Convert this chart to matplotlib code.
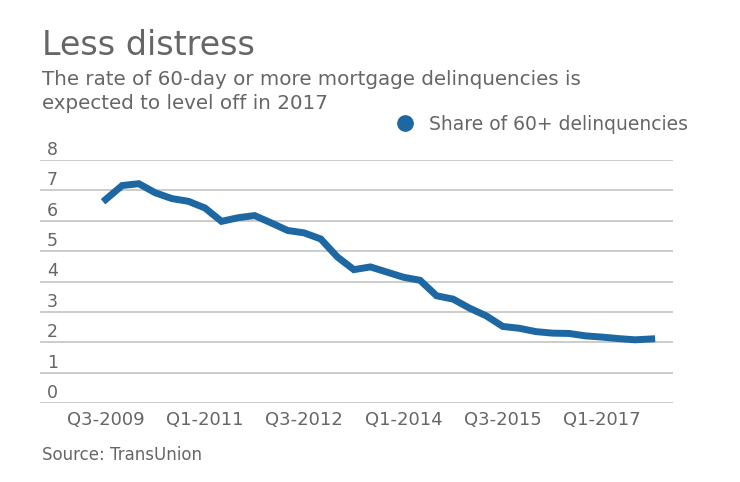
import matplotlib.pyplot as plt
from matplotlib.lines import Line2D
from matplotlib.transforms import blended_transform_factory, offset_copy

# quarterly share of 60+ day mortgage delinquencies, Q3-2009 .. Q4-2017
quarters = []
for year in range(2009, 2018):
    for q in range(1, 5):
        if (year, q) >= (2009, 3):
            quarters.append(f"Q{q}-{year}")

share = [6.70, 7.16, 7.22, 6.92, 6.73, 6.64, 6.42, 5.98, 6.10, 6.17,
         5.93, 5.68, 5.60, 5.40, 4.81, 4.39, 4.48, 4.31, 4.14, 4.04,
         3.53, 3.42, 3.12, 2.87, 2.52, 2.46, 2.35, 2.30, 2.29, 2.21,
         2.17, 2.12, 2.08, 2.11]

tick_labels = ["Q3-2009", "Q1-2011", "Q3-2012", "Q1-2014", "Q3-2015", "Q1-2017"]
y_ticks = [0, 1, 2, 3, 4, 5, 6, 7, 8]

LINE_COLOR = "#1d67a3"
TEXT_COLOR = "#666666"
GRID_COLOR = "#c4c4c4"

W, H = 740, 482
fig = plt.figure(figsize=(W / 100, H / 100), dpi=100)
ax = fig.add_axes([40 / W, 1 - 403 / H, (673 - 40) / W, (403 - 160) / H])

x = list(range(len(share)))
ax.plot(x, share, color=LINE_COLOR, linewidth=5, solid_joinstyle="miter")

ax.set_ylim(0, 8)
ax.set_xlim(-3.97, 34.29)
ax.set_yticks(y_ticks)
ax.yaxis.grid(True, color=GRID_COLOR, linewidth=1.2)
ax.set_axisbelow(True)
ax.tick_params(axis="y", length=0, labelleft=False)
for s in ax.spines.values():
    s.set_visible(False)

# y labels sit on top of the gridlines, at the left
trans = offset_copy(blended_transform_factory(ax.transAxes, ax.transData),
                    fig=fig, x=7, y=1, units="dots")
for v in y_ticks:
    ax.text(0, v, str(v), transform=trans, ha="left", va="bottom",
            fontsize=12.5, color=TEXT_COLOR)

ax.set_xticks([quarters.index(t) for t in tick_labels])
ax.set_xticklabels(tick_labels)
ax.tick_params(axis="x", length=0, pad=6, labelsize=13, labelcolor=TEXT_COLOR)

fig.text(42 / W, 1 - 55 / H, "Less distress", fontsize=24, color=TEXT_COLOR,
         va="baseline", ha="left")
fig.text(42 / W, 1 - 85 / H, "The rate of 60-day or more mortgage delinquencies is",
         fontsize=14.3, color=TEXT_COLOR, va="baseline", ha="left")
fig.text(42 / W, 1 - 109 / H, "expected to level off in 2017",
         fontsize=14.3, color=TEXT_COLOR, va="baseline", ha="left")
fig.text(42 / W, 1 - 460 / H, "Source: TransUnion", fontsize=12,
         color=TEXT_COLOR, va="baseline", ha="left")

handle = Line2D([], [], marker="o", linestyle="none", markersize=11,
                color=LINE_COLOR)
fig.legend([handle], ["Share of 60+ delinquencies"], loc="center right",
           bbox_to_anchor=(688 / W, 1 - 124 / H), frameon=False,
           fontsize=13.5, labelcolor=TEXT_COLOR, handletextpad=0.3,
           borderaxespad=0, borderpad=0)

fig.savefig("out.png", dpi=100)
